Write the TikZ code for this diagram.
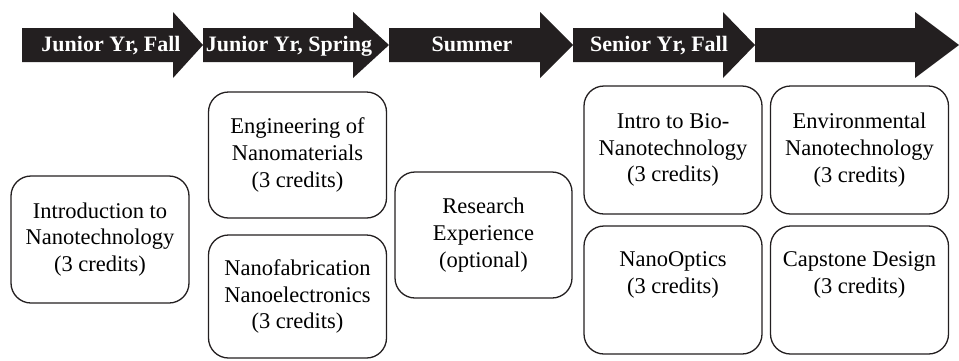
\documentclass[tikz,border=0pt]{standalone}
\usepackage{fontspec}
\setmainfont{Liberation Serif}
\definecolor{bandc}{HTML}{231F20}
\begin{document}
\begin{tikzpicture}[x=1pt,y=-1pt,
  bandlabel/.style={text=white,font=\fontsize{22}{26}\selectfont\bfseries,anchor=base,inner sep=0pt},
  course/.style={draw=bandc, line width=1.3pt, rounded corners=20pt, align=center,
    font=\fontsize{22.5}{26.8}\selectfont, inner sep=0pt, minimum width=178pt, minimum height=127pt}]
\useasboundingbox (0,0) rectangle (959,360);
% timeline band
\foreach \a/\b/\c in {22/173/203, 203/353/389, 389/540/573, 573/723/755, 755/915/959}
  \fill[bandc] (\a,28) -- (\b,28) -- (\b,12) -- (\c,45) -- (\b,78) -- (\b,62) -- (\a,62) -- cycle;
\node[bandlabel] (t1) at (111,51) {Junior Yr, Fall};
\node[bandlabel] (t2) at (289,51) {Junior Yr, Spring};
\node[bandlabel] (t3) at (472,51) {Summer};
\node[bandlabel] (t4) at (659,51) {Senior Yr, Fall};
% courses
\node[course] (intro) at (100,239.5) {Introduction to\\Nanotechnology\\(3 credits)};
\node[course, minimum height=126pt] (eng) at (297.5,155) {Engineering of\\Nanomaterials\\(3 credits)};
\node[course, minimum height=123pt] (fab) at (297.5,296.5) {Nanofabrication\\Nanoelectronics\\(3 credits)};
\node[course, minimum width=177pt, minimum height=126pt] (res) at (483.5,235) {Research\\Experience\\(optional)};
\node[course, minimum height=128pt] (bio) at (673,150) {Intro to Bio-\\Nanotechnology\\(3 credits)};
\node[course, minimum height=128pt] (env) at (859.5,150) {Environmental\\Nanotechnology\\(3 credits)};
\node[course, minimum height=128pt] (opt) at (673,290) {NanoOptics\\(3 credits)\\\strut};
\node[course, minimum height=128pt] (cap) at (859.5,290) {Capstone Design\\(3 credits)\\\strut};
\end{tikzpicture}
\end{document}
